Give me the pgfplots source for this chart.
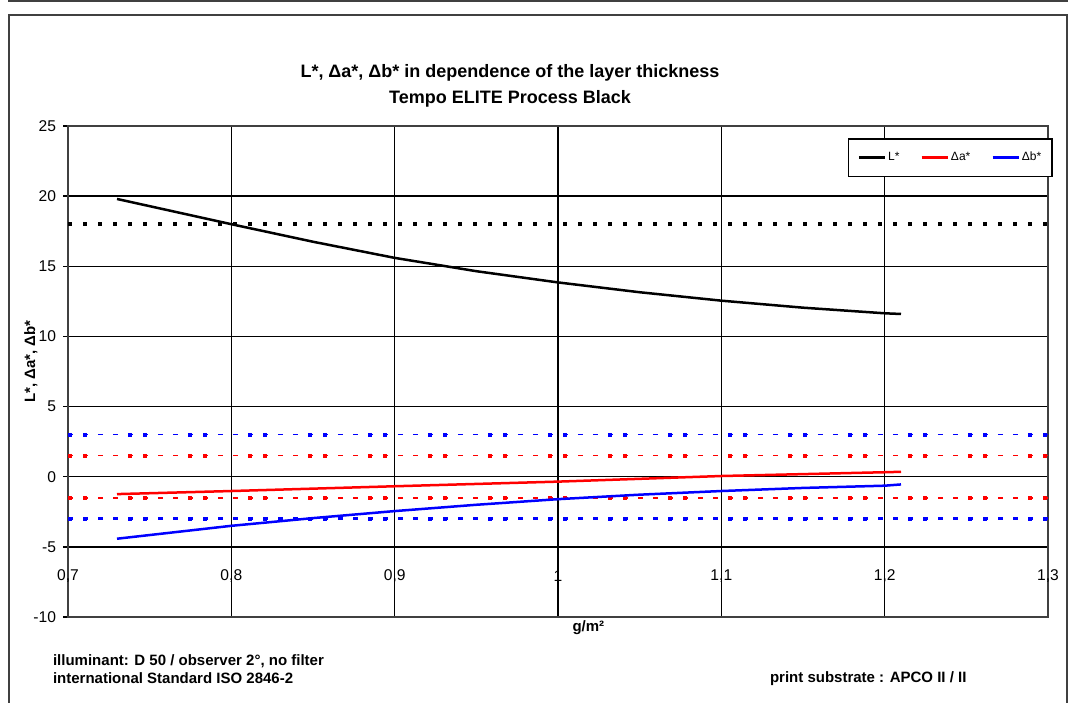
\documentclass[border=0pt]{standalone}
\usepackage{pgfplots}
\pgfplotsset{compat=1.18}
\usepackage{fontspec}
\setmainfont{Liberation Sans}
\definecolor{frame}{RGB}{64,64,64}
\begin{document}
\begin{tikzpicture}[x=0.5pt,y=0.5pt]
\begin{axis}[
  scale only axis, width=490pt, height=245.5pt,
  xmin=0.7, xmax=1.3, ymin=-10, ymax=25,
  clip=false,
  xtick={0.7,0.8,0.9,1.0,1.1,1.2,1.3},
  xticklabels={{0,7},{0,8},{0,9},{1},{1,1},{1,2},{1,3}},
  ytick={-10,-5,0,5,10,15,20,25},
  yticklabels={-10,-5,0,5,10,15,20,25},
  grid=major,
  major grid style={black, line width=0.7pt},
  axis line style={frame, line width=0.9pt},
  x tick style={draw=none},
  y tick style={black, line width=0.7pt},
  tick align=outside, major tick length=2.5pt,
  ytick pos=left,
  every tick label/.append style={font=\fontsize{7.8}{9}\selectfont},
  xticklabel style={anchor=center, yshift=23pt},
  xlabel={g/m²},
  ylabel={L*, Δa*, Δb*},
  every axis x label/.style={at={(rel axis cs:0.531,-0.0224)}, anchor=center, font=\bfseries\fontsize{7.5}{9}\selectfont},
  every axis y label/.style={at={(rel axis cs:-0.0378,0.52)}, rotate=90, anchor=center, font=\bfseries\fontsize{7.5}{9}\selectfont},
  legend columns=3,
  legend style={at={(rel axis cs:1,1)}, anchor=north east, xshift=2.5pt, yshift=-6pt,
    draw=black, line width=0.8pt, font=\fontsize{6}{7}\selectfont,
    inner xsep=4.5pt, inner ysep=4.5pt,
    nodes={inner xsep=1pt},
    /tikz/every even column/.append style={column sep=9.5pt}},
  legend image code/.code={\draw[#1, line width=1.25pt] (0pt,0pt) -- (13pt,0pt);},
]
\coordinate (O) at (rel axis cs:0,0);
% reference lines
\addplot[black, line width=2.2pt, dash pattern=on 2.2pt off 5.3pt, forget plot] coordinates {(0.7,18) (1.3,18)};
\addplot[red, line width=0.8pt, dash pattern=on 2.5pt off 5pt, forget plot] coordinates {(0.7,1.5) (1.3,1.5)};
\addplot[red, line width=2pt, dash pattern=on 2pt off 5.5pt on 2pt off 20.5pt, forget plot] coordinates {(0.7,1.5) (1.3,1.5)};
\addplot[red, line width=0.8pt, dash pattern=on 2.5pt off 5pt, forget plot] coordinates {(0.7,-1.5) (1.3,-1.5)};
\addplot[red, line width=2pt, dash pattern=on 2pt off 5.5pt on 2pt off 20.5pt, forget plot] coordinates {(0.7,-1.5) (1.3,-1.5)};
\addplot[blue, line width=0.8pt, dash pattern=on 2.5pt off 5pt, forget plot] coordinates {(0.7,3) (1.3,3)};
\addplot[blue, line width=2pt, dash pattern=on 2pt off 5.5pt on 2pt off 20.5pt, forget plot] coordinates {(0.7,3) (1.3,3)};
\addplot[blue, line width=1.4pt, dash pattern=on 2.5pt off 5pt, forget plot] coordinates {(0.7,-3) (1.3,-3)};
\addplot[blue, line width=2pt, dash pattern=on 2pt off 5.5pt on 2pt off 20.5pt, forget plot] coordinates {(0.7,-3) (1.3,-3)};
% data
\addplot[black, line width=1.25pt] coordinates {
 (0.73,19.8) (0.8,18.0) (0.85,16.75) (0.9,15.6) (0.95,14.65) (1.0,13.85)
 (1.05,13.15) (1.1,12.55) (1.15,12.05) (1.2,11.65) (1.21,11.6)};
\addlegendentry{L*}
\addplot[red, line width=1.25pt] coordinates {
 (0.73,-1.24) (0.8,-1.02) (0.9,-0.68) (1.0,-0.35) (1.1,0.05) (1.2,0.32) (1.21,0.35)};
\addlegendentry{Δa*}
\addplot[blue, line width=1.25pt] coordinates {
 (0.73,-4.42) (0.8,-3.5) (0.85,-2.95) (0.9,-2.45) (0.95,-2.0) (1.0,-1.6) (1.05,-1.28)
 (1.1,-1.02) (1.15,-0.8) (1.2,-0.64) (1.21,-0.55)};
\addlegendentry{Δb*}
\end{axis}
\pgfresetboundingbox
\begin{scope}[shift={(O)}]
\begin{scope}[shift={(-68,-85)}]
\useasboundingbox (0,0) rectangle (1076,702);
% outer frames
\draw[frame, line width=1pt] (9,708) -- (9,701) -- (1067,701) -- (1067,708);
\draw[frame, line width=1pt] (9,-10) -- (9,687) -- (1067,687) -- (1067,-10);
% title
\node[font=\bfseries\fontsize{9}{10}\selectfont] at (510,629) {L*, Δa*, Δb* in dependence of the layer thickness};
\node[font=\bfseries\fontsize{9}{10}\selectfont] at (510,603) {Tempo ELITE Process Black};
% footer
\node[font=\bfseries\fontsize{7.5}{9}\selectfont, anchor=west] at (46,41) {illuminant: D 50 / observer 2°, no filter};
\node[font=\bfseries\fontsize{7.5}{9}\selectfont, anchor=west] at (46,24) {international Standard ISO 2846-2};
\node[font=\bfseries\fontsize{7.5}{9}\selectfont, anchor=west] at (763,23) {print substrate : APCO II / II};
\end{scope}
\end{scope}
\end{tikzpicture}
\end{document}
